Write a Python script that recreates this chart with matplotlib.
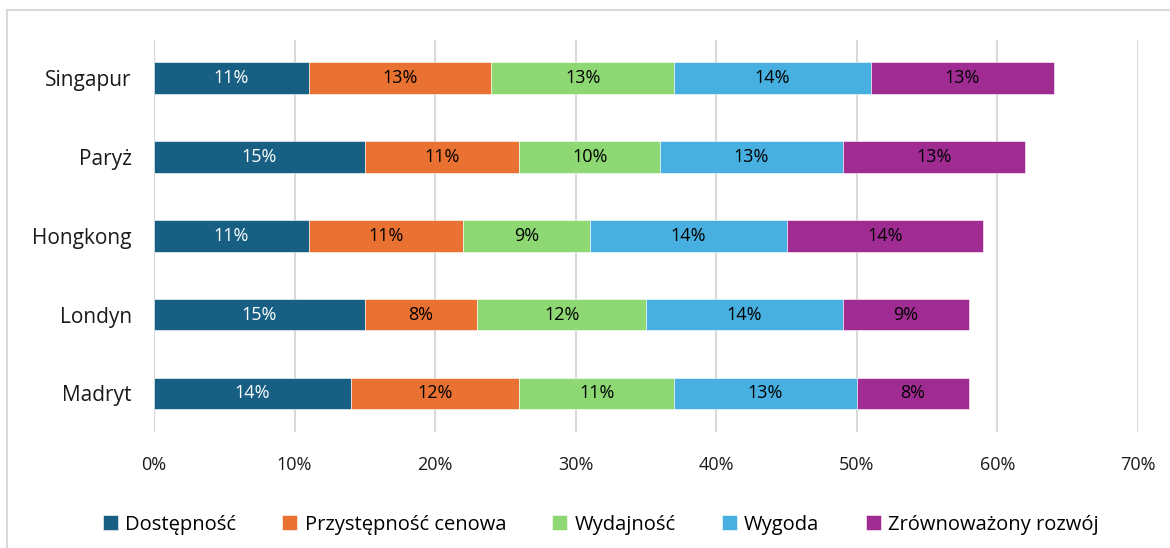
import matplotlib
matplotlib.use('Agg')
import matplotlib.pyplot as plt
from matplotlib.patches import Rectangle
import numpy as np

# 数据
cities = ['Singapur', 'Paryż', 'Hongkong', 'Londyn', 'Madryt']
series_names = ['Dostępność', 'Przystępność cenowa', 'Wydajność', 'Wygoda', 'Zrównoważony rozwój']
dostepnosc = [11, 15, 11, 15, 14]
przystepnosc = [13, 11, 11, 8, 12]
wydajnosc = [13, 10, 9, 12, 11]
wygoda = [14, 13, 14, 14, 13]
zrownowazony = [13, 13, 14, 9, 8]
x_ticks = [0, 10, 20, 30, 40, 50, 60, 70]

colors = ['#176083', '#E97132', '#8ED873', '#47B0E0', '#A02B93']
label_colors = ['white', 'black', 'black', 'black', 'black']

plt.rcParams['font.family'] = ['Open Sans', 'DejaVu Sans']

fig = plt.figure(figsize=(11.7, 5.48), dpi=100)
ax = fig.add_axes([0.1316, 0.2117, 0.841, 0.7153])

# 外框
fig.patches.append(Rectangle((7 / 1170, -0.1), 1.2, (548 - 10) / 548 + 0.1,
                             transform=fig.transFigure, fill=False,
                             edgecolor='#D9D9D9', linewidth=1.5))

y = np.arange(len(cities))
left = np.zeros(len(cities))
all_series = [dostepnosc, przystepnosc, wydajnosc, wygoda, zrownowazony]
for vals, name, col, tcol in zip(all_series, series_names, colors, label_colors):
    vals = np.array(vals, dtype=float)
    bars = ax.barh(y, vals, left=left, height=0.4, color=col, label=name,
                   edgecolor='white', linewidth=0.4, zorder=3)
    for b, v in zip(bars, vals):
        ax.text(b.get_x() + b.get_width() / 2, b.get_y() + b.get_height() / 2,
                f'{int(v)}%', ha='center', va='center', fontsize=13,
                color=tcol, zorder=4)
    left += vals

ax.set_xlim(0, 70)
ax.set_ylim(4.49, -0.485)
ax.set_xticks(x_ticks)
ax.set_xticklabels([f'{t}%' for t in x_ticks], fontsize=13)
ax.set_yticks(y)
ax.set_yticklabels(cities, fontsize=15)
ax.tick_params(axis='both', length=0, colors='#1a1a1a')
ax.tick_params(axis='x', pad=17)
ax.tick_params(axis='y', pad=16)
ax.grid(axis='x', color='#D9D9D9', linewidth=1.5, zorder=0)
for s in ax.spines.values():
    s.set_visible(False)

ax.legend(loc='upper center', bbox_to_anchor=(0.454, -0.165), ncol=5, frameon=False,
          fontsize=14.5, handlelength=0.75, handleheight=0.75, handletextpad=0.35,
          columnspacing=2.3)

plt.savefig('out.png', dpi=100)
